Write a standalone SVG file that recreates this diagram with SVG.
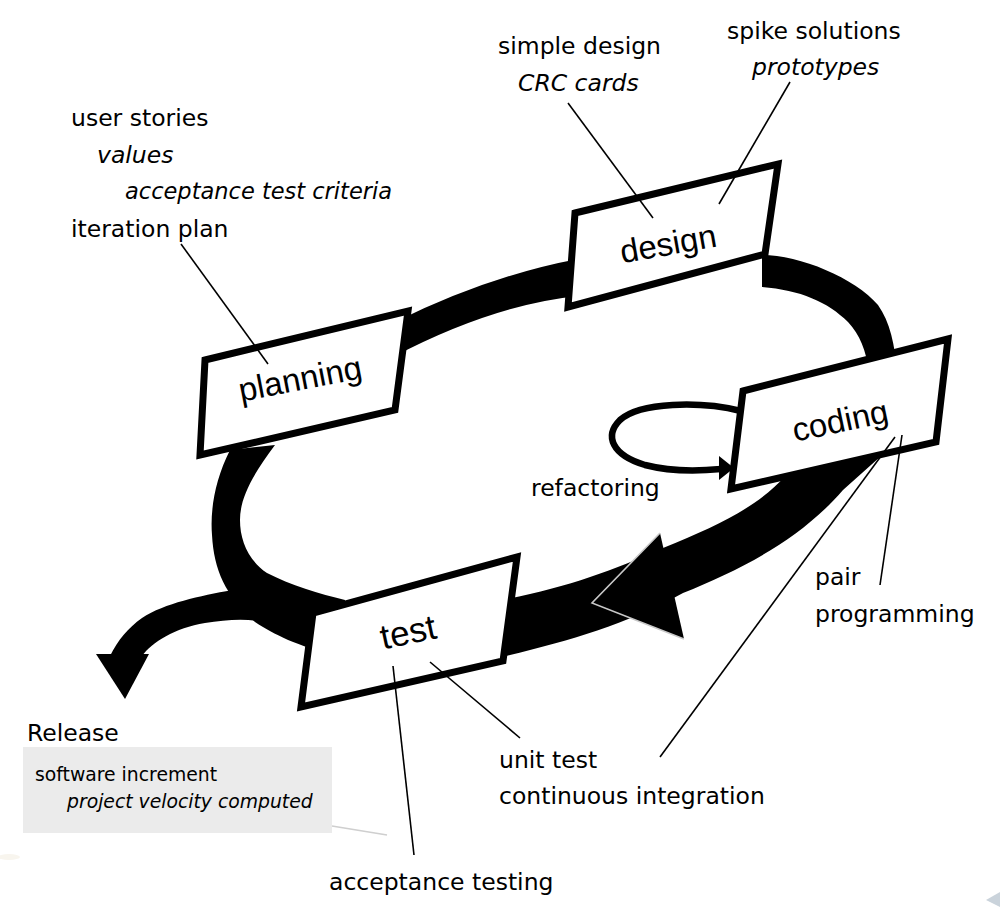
<svg xmlns="http://www.w3.org/2000/svg" width="1000" height="918" viewBox="0 0 1000 918">
<style>
.band{fill:#000;stroke:none}
.box polygon{fill:#fff;stroke:#000;stroke-width:7;stroke-linejoin:miter}
.boxlbl{font-family:"Liberation Sans",Arial,sans-serif;font-size:33px;fill:#000;text-anchor:middle}
.lbl{font-family:"DejaVu Sans",sans-serif;font-size:23.5px;fill:#000}
.it{font-style:italic}
.sm{font-size:18.8px}
.lead{stroke:#000;stroke-width:1.6;fill:none}
</style>
<rect width="1000" height="918" fill="#fff"/>
<ellipse cx="9" cy="857" rx="11" ry="3" fill="#f8f5ee"/>
<polygon points="986,900 1000,892 1000,907" fill="#b4c0cc" opacity="0.7"/>

<g id="connectors">
  <!-- planning to design -->
  <path class="band" d="M395,322 Q488,276 578,259 L578,296 Q492,305 393,357 Z"/>
  <!-- design to coding -->
  <path class="band" d="M762,255 C800,255 855,278 878,305 C890,322 895,345 897,372 L869,372 C866,350 860,335 848,322 C828,302 800,290 762,287 Z"/>
  <!-- coding to test -->
  <path class="band" d="M785,476 C760,505 720,525 663,548 C610,572 560,590 490,602 L490,660 C560,643 620,628 683,593 C740,570 800,540 843,490 L890,448 Z"/>
  <polygon points="592,603 660,533 684,639" fill="#000"/>
  <polyline points="660,533 592,603 684,639" fill="none" stroke="#c8c8c8" stroke-width="1.6"/>
  <!-- test to planning -->
  <path class="band" d="M230,450 C215,480 210,510 212,535 C214,570 225,595 255,622 C275,635 295,645 340,657 L345,600 C320,594 290,585 267,573 C248,560 240,540 240,520 C240,500 250,478 275,445 Z"/>
  <!-- release -->
  <path class="band" d="M232,590 C200,596 165,603 142,618 C128,628 118,640 110,656 L142,656 C152,642 175,628 205,623 C225,620 245,618 262,622 Z"/>
  <polygon points="96,654 149,654 125,699" fill="#000"/>
  <!-- refactoring loop -->
  <path d="M741,411 C700,401 640,402 620,420 C604,436 612,455 645,465 C672,472 700,471 721,469" fill="none" stroke="#000" stroke-width="6.5"/>
  <polygon points="734,468 719,456 719,480" fill="#000"/>
</g>

<g id="planning" class="box">
  <polygon points="205,360 408,311 395,410 200,455"/>
  <text class="boxlbl" x="300" y="390" transform="rotate(-11 300 378)">planning</text>
</g>
<g id="design" class="box">
  <polygon points="575,213 778,164 765,254 568,307"/>
  <text class="boxlbl" x="668" y="255" transform="rotate(-10 668 243)">design</text>
</g>
<g id="coding" class="box">
  <polygon points="743,391 948,339 936,442 731,489"/>
  <text class="boxlbl" x="840" y="432" transform="rotate(-12 840 420)">coding</text>
</g>
<g id="test" class="box">
  <polygon points="313,613 517,557 503,661 301,707"/>
  <text class="boxlbl" x="408" y="644" transform="rotate(-12 408 632)" style="font-size:35px">test</text>
</g>

<g id="leaders">
  <line class="lead" x1="181" y1="244" x2="268" y2="364"/>
  <line class="lead" x1="568" y1="103" x2="653" y2="218"/>
  <line class="lead" x1="790" y1="82" x2="719" y2="204"/>
  <line class="lead" x1="895" y1="437" x2="660" y2="757"/>
  <line class="lead" x1="902" y1="435" x2="880" y2="585"/>
  <line class="lead" x1="393" y1="666" x2="414" y2="855"/>
  <line class="lead" x1="430" y1="662" x2="520" y2="738"/>
  <line x1="332" y1="826" x2="387" y2="835" stroke="#cfcfcf" stroke-width="1.6"/>
</g>

<g id="labels">
  <text class="lbl" x="71" y="126">user stories</text>
  <text class="lbl it" x="97" y="163">values</text>
  <text class="lbl it" x="125" y="199" style="font-size:22.5px">acceptance test criteria</text>
  <text class="lbl" x="71" y="237">iteration plan</text>
  <text class="lbl" x="498" y="54">simple design</text>
  <text class="lbl it" x="518" y="91">CRC cards</text>
  <text class="lbl" x="727" y="39">spike solutions</text>
  <text class="lbl it" x="752" y="75">prototypes</text>
  <text class="lbl" x="531" y="496">refactoring</text>
  <text class="lbl" x="815" y="585">pair</text>
  <text class="lbl" x="815" y="622">programming</text>
  <text class="lbl" x="499" y="768">unit test</text>
  <text class="lbl" x="499" y="804">continuous integration</text>
  <text class="lbl" x="329" y="890">acceptance testing</text>
</g>

<g id="release">
  <text class="lbl" x="27" y="741">Release</text>
  <rect x="23" y="747" width="309" height="86" fill="#ebebeb"/>
  <text class="lbl sm" x="35" y="781">software increment</text>
  <text class="lbl sm it" x="67" y="808">project velocity computed</text>
</g>
</svg>
